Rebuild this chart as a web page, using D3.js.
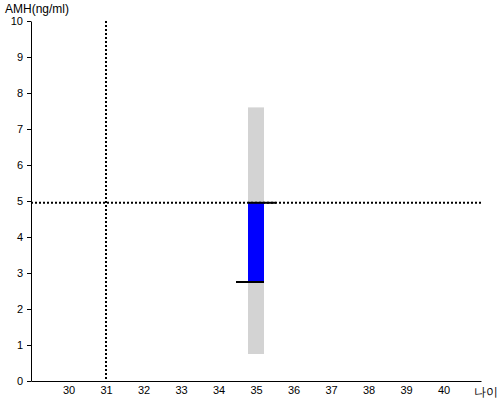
<!DOCTYPE html>
<html><head><meta charset="utf-8">
<script src="https://cdn.jsdelivr.net/npm/d3@7"></script>
<style>body{margin:0;background:#fff}svg{display:block}text{font-family:"Liberation Sans",Arial,sans-serif}</style>
</head><body>
<svg id="c" width="500" height="400"></svg>
<script>
const xTicks = [30,31,32,33,34,35,36,37,38,39,40];
const yTicks = [0,1,2,3,4,5,6,7,8,9,10];
const refAge = [31];
const refAmh = [4.95];
const rangeAge = [35];
const rangeLow = [0.75];
const rangeHigh = [7.6];
const barLow = [2.75];
const barHigh = [4.95];
const xTitle = "나이";
const yTitle = "AMH(ng/ml)";

const svg = d3.select("#c");
const x = d3.scaleLinear().domain([29,41]).range([31,481]);
const y = d3.scaleLinear().domain([0,10]).range([381,21]);

// gray range
svg.selectAll("rect.range").data(rangeAge).enter().append("rect")
  .attr("x", d=>x(d)-8).attr("width",16)
  .attr("y",(d,i)=>y(rangeHigh[i])).attr("height",(d,i)=>y(rangeLow[i])-y(rangeHigh[i]))
  .attr("fill","#d3d3d3");

// dotted reference lines
svg.selectAll("line.vref").data(refAge).enter().append("line")
  .attr("x1",d=>x(d)).attr("x2",d=>x(d)).attr("y1",y(10)).attr("y2",y(0))
  .attr("stroke","#000").attr("stroke-width",2).attr("stroke-dasharray","2,2");
svg.selectAll("line.href").data(refAmh).enter().append("line")
  .attr("x1",x(29)).attr("x2",x(41)).attr("y1",d=>y(d)).attr("y2",d=>y(d))
  .attr("stroke","#000").attr("stroke-width",2).attr("stroke-dasharray","2,2");

// blue bar
svg.selectAll("rect.bar").data(rangeAge).enter().append("rect")
  .attr("x", d=>x(d)-8).attr("width",16)
  .attr("y",(d,i)=>y(barHigh[i])).attr("height",(d,i)=>y(barLow[i])-y(barHigh[i]))
  .attr("fill","#0000ff");
// caps
svg.selectAll("line.capTop").data(rangeAge).enter().append("line")
  .attr("x1",d=>x(d)-8).attr("x2",d=>x(d)+20)
  .attr("y1",(d,i)=>y(barHigh[i])).attr("y2",(d,i)=>y(barHigh[i]))
  .attr("stroke","#000").attr("stroke-width",2);
svg.selectAll("line.capBot").data(rangeAge).enter().append("line")
  .attr("x1",d=>x(d)-20).attr("x2",d=>x(d)+8)
  .attr("y1",(d,i)=>y(barLow[i])).attr("y2",(d,i)=>y(barLow[i]))
  .attr("stroke","#000").attr("stroke-width",2);

// axes
const yAxis = d3.axisLeft(y).tickValues(yTicks).tickSize(4).tickSizeOuter(0).tickFormat(d3.format("d"));
const gy = svg.append("g").attr("transform","translate(31,0)").call(yAxis);
gy.select(".domain").attr("stroke","#000");
gy.selectAll("text").attr("font-size",11).attr("fill","#000").attr("x",-8);

const xAxis = d3.axisBottom(x).tickValues(xTicks).tickSize(0).tickSizeOuter(0).tickFormat(d3.format("d"));
const gx = svg.append("g").attr("transform","translate(0,381)").call(xAxis);
gx.select(".domain").attr("stroke","#000");
gx.selectAll("text").attr("font-size",11).attr("fill","#000").attr("dy","0.71em").attr("y",5);
svg.selectAll("g").attr("font-family","Liberation Sans, Arial, sans-serif");

svg.append("text").attr("x",5).attr("y",13).attr("font-size",12).attr("fill","#000").text(yTitle);
svg.append("text").attr("x",474).attr("y",396).attr("font-size",12).attr("fill","#000")
  .attr("font-family","Noto Sans CJK KR, sans-serif").text(xTitle);
</script>
</body></html>
